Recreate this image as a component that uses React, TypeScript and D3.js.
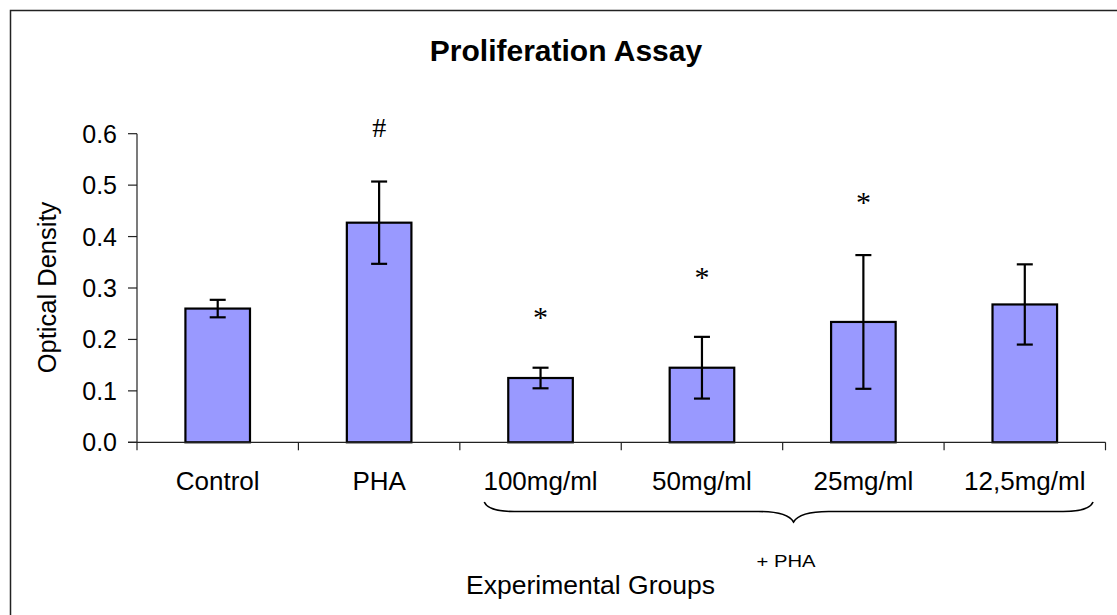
import React from "react";
import * as d3 from "d3";

const categories = ["Control", "PHA", "100mg/ml", "50mg/ml", "25mg/ml", "12,5mg/ml"];
const means = [0.26, 0.427, 0.125, 0.145, 0.234, 0.268];
const errors = [0.017, 0.08, 0.02, 0.06, 0.13, 0.078];
const marks = ["", "#", "*", "*", "*", ""];
const markValues = [0, 0.594, 0.224, 0.302, 0.447, 0];
const yTicks = [0, 0.1, 0.2, 0.3, 0.4, 0.5, 0.6];
const bracketGroups = ["100mg/ml", "50mg/ml", "25mg/ml", "12,5mg/ml"];

const W = 1117;
const H = 615;
const SANS = "'Liberation Sans', Arial, Helvetica, sans-serif";
const SERIF = "'Liberation Serif', 'Times New Roman', serif";

export default function App() {
  const x = d3
    .scaleBand<string>()
    .domain(categories)
    .range([137, 1105.5])
    .paddingInner(0.6)
    .paddingOuter(0.3);
  const step = x.step();
  const y = d3.scaleLinear().domain([0, 0.6]).range([442.3, 133.7]);
  const fmt = d3.format(".1f");
  const bw = x.bandwidth();
  const leftEdge = 137;
  const boundaries = d3.range(categories.length + 1).map((i) => leftEdge + i * step);

  // bracket geometry derived from the x scale
  const bStart = (x(bracketGroups[0]) as number) - 24;
  const bEnd = (x(bracketGroups[bracketGroups.length - 1]) as number) + bw + 36;
  const bTip = bStart + (bEnd - bStart) * 0.508;
  const yTop = 502;
  const yMid = 511.5;
  const yTip = 522;
  const bracePath = [
    `M${bStart},${yTop}`,
    `Q${bStart + 4},${yMid} ${bStart + 30},${yMid}`,
    `L${bTip - 35},${yMid}`,
    `Q${bTip - 6},${yMid} ${bTip},${yTip}`,
    `Q${bTip + 6},${yMid} ${bTip + 35},${yMid}`,
    `L${bEnd - 30},${yMid}`,
    `Q${bEnd - 4},${yMid} ${bEnd},${yTop}`,
  ].join(" ");

  return (
    <svg
      width={W}
      height={H}
      style={{ position: "absolute", left: 0, top: 0, background: "#fff" }}
    >
      <rect x={0} y={0} width={W} height={H} fill="#fff" />
      <rect x={10.5} y={10.5} width={1200} height={800} fill="none" stroke="#222" strokeWidth={1.5} />

      <text
        x={566}
        y={61}
        textAnchor="middle"
        fontFamily={SANS}
        fontWeight="bold"
        fontSize={30}
        fill="#000"
      >
        Proliferation Assay
      </text>

      {/* bars */}
      {categories.map((c, i) => (
        <rect
          key={c}
          x={x(c) as number}
          y={y(means[i])}
          width={bw}
          height={y(0) - y(means[i])}
          fill="#9999FF"
          stroke="#000"
          strokeWidth={2.2}
        />
      ))}

      {/* error bars */}
      {categories.map((c, i) => {
        const cx = (x(c) as number) + bw / 2;
        const top = y(means[i] + errors[i]);
        const bot = y(means[i] - errors[i]);
        return (
          <g key={"e" + c} stroke="#000" strokeWidth={2.2}>
            <line x1={cx} x2={cx} y1={top} y2={bot} />
            <line x1={cx - 8} x2={cx + 8} y1={top} y2={top} />
            <line x1={cx - 8} x2={cx + 8} y1={bot} y2={bot} />
          </g>
        );
      })}

      {/* significance marks */}
      {categories.map((c, i) =>
        marks[i] ? (
          <text
            key={"m" + c}
            x={(x(c) as number) + bw / 2}
            y={y(markValues[i])}
            textAnchor="middle"
            fontFamily={SERIF}
            fontSize={marks[i] === "#" ? 28 : 30}
            fill="#000"
          >
            {marks[i]}
          </text>
        ) : null
      )}

      {/* y axis */}
      <g stroke="#222" strokeWidth={1.2}>
        <line x1={137} x2={137} y1={y(0.6)} y2={y(0)} />
        {yTicks.map((t) => (
          <line key={"yt" + t} x1={128} x2={137} y1={y(t)} y2={y(t)} />
        ))}
      </g>
      {yTicks.map((t) => (
        <text
          key={"yl" + t}
          x={117}
          y={y(t) + 9}
          textAnchor="end"
          fontFamily={SANS}
          fontSize={25}
          fill="#000"
        >
          {fmt(t)}
        </text>
      ))}
      <text
        transform={`translate(55.5, ${(y(0) + y(0.6)) / 2 - 0.5}) rotate(-90)`}
        textAnchor="middle"
        fontFamily={SANS}
        fontSize={25.5}
        fill="#000"
      >
        Optical Density
      </text>

      {/* x axis */}
      <g stroke="#222" strokeWidth={1.2}>
        <line x1={128} x2={boundaries[boundaries.length - 1]} y1={y(0)} y2={y(0)} />
        {boundaries.map((b, i) => (
          <line key={"xt" + i} x1={b} x2={b} y1={y(0)} y2={y(0) + 8} />
        ))}
      </g>
      {categories.map((c) => (
        <text
          key={"xl" + c}
          x={(x(c) as number) + bw / 2}
          y={490}
          textAnchor="middle"
          fontFamily={SANS}
          fontSize={26}
          fill="#000"
        >
          {c}
        </text>
      ))}

      {/* brace */}
      <path d={bracePath} fill="none" stroke="#000" strokeWidth={1.6} />

      <text
        x={756.5}
        y={567}
        fontFamily={SANS}
        fontSize={16}
        textLength={59}
        lengthAdjust="spacingAndGlyphs"
        fill="#000"
      >
        + PHA
      </text>

      <text
        x={590.5}
        y={593.5}
        textAnchor="middle"
        fontFamily={SANS}
        fontSize={26.5}
        fill="#000"
      >
        Experimental Groups
      </text>
    </svg>
  );
}
